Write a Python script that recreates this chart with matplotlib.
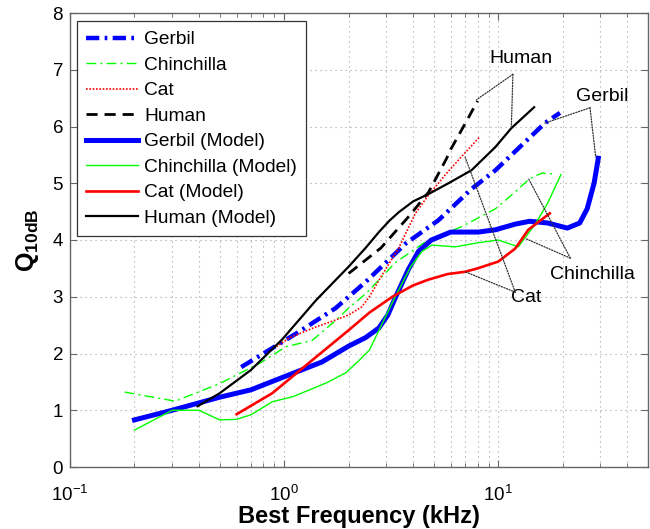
import numpy as np
import matplotlib
matplotlib.use("Agg")
import matplotlib.pyplot as plt

plt.rcParams['font.family'] = ['Liberation Sans', 'DejaVu Sans']
plt.rcParams['mathtext.fontset'] = 'custom'
plt.rcParams['mathtext.rm'] = 'Liberation Sans'
plt.rcParams['mathtext.bf'] = 'Liberation Sans:bold'
plt.rcParams['mathtext.it'] = 'Liberation Sans:italic'

# ---- data (kHz, Q10dB) ----
gerbil_x = [0.63, 1.17, 1.74, 2.4, 3.7, 5.26, 7.5, 9.7, 16.5, 19.4]
gerbil_y = [1.76, 2.38, 2.80, 3.26, 3.94, 4.35, 4.90, 5.23, 6.06, 6.24]

chin_x = [0.18, 0.31, 0.5, 0.77, 1.02, 1.35, 1.75, 2.0, 2.43, 3.3, 4.7, 6.7, 9.7, 12.0, 14.0, 16.0, 18.4]
chin_y = [1.32, 1.16, 1.47, 1.83, 2.12, 2.23, 2.59, 2.80, 3.07, 3.60, 4.00, 4.23, 4.55, 4.85, 5.08, 5.18, 5.16]

cat_x = [0.92, 1.05, 1.41, 1.74, 2.0, 2.3, 2.5, 2.83, 3.43, 4.1, 4.72, 5.66, 6.7, 8.2]
cat_y = [2.12, 2.27, 2.47, 2.59, 2.68, 2.82, 3.00, 3.35, 3.86, 4.47, 4.79, 5.15, 5.46, 5.82]

human_x = [2.0, 2.83, 3.81, 4.72, 5.74, 6.0, 7.0, 8.0]
human_y = [3.41, 3.86, 4.41, 4.84, 5.44, 5.60, 6.05, 6.45]

gerbil_m_x = [0.2, 0.3, 0.5, 0.7, 1.0, 1.5, 2.0, 2.4, 2.77, 3.05, 3.32, 3.8, 4.24, 4.87, 6.0, 8.07, 9.7, 12.0, 14.0, 17.0, 21.0, 24.0, 26.0, 28.0, 29.3]
gerbil_m_y = [0.83, 1.00, 1.23, 1.36, 1.59, 1.85, 2.13, 2.28, 2.45, 2.68, 3.00, 3.48, 3.80, 4.00, 4.14, 4.14, 4.18, 4.28, 4.33, 4.30, 4.21, 4.30, 4.55, 5.00, 5.44]

chin_m_x = [0.2, 0.3, 0.4, 0.5, 0.6, 0.7, 0.88, 1.1, 1.57, 1.94, 2.2, 2.5, 3.3, 3.9, 4.4, 4.9, 6.3, 8.0, 10.0, 12.4, 15.0, 17.0, 19.6]
chin_m_y = [0.65, 1.00, 1.00, 0.83, 0.84, 0.92, 1.15, 1.24, 1.48, 1.66, 1.85, 2.06, 3.00, 3.53, 3.80, 3.91, 3.88, 3.95, 4.00, 3.88, 4.30, 4.65, 5.15]

cat_m_x = [0.6, 0.88, 1.35, 2.0, 2.5, 3.2, 4.0, 4.7, 5.8, 7.0, 8.0, 10.0, 12.0, 13.8, 17.4]
cat_m_y = [0.93, 1.30, 1.88, 2.41, 2.72, 3.00, 3.20, 3.30, 3.40, 3.44, 3.50, 3.62, 3.85, 4.18, 4.47]

human_m_x = [0.394, 0.5, 0.7, 0.98, 1.41, 2.0, 2.4, 2.77, 3.1, 3.43, 4.0, 4.72, 5.85, 7.5, 9.7, 11.5, 14.7]
human_m_y = [1.07, 1.30, 1.71, 2.25, 2.94, 3.53, 3.86, 4.14, 4.34, 4.49, 4.68, 4.81, 5.00, 5.23, 5.64, 5.97, 6.34]

BLUE, GREEN, RED, BLACK = (0, 0, 1), (0, 1, 0), (1, 0, 0), (0, 0, 0)

fig = plt.figure(figsize=(6.5, 5.29), dpi=100)
ax = fig.add_axes([70/650, 62/529, 578/650, 454/529])

ax.plot(gerbil_x, gerbil_y, color=BLUE, lw=3.2, ls=(0, (3, 1.2, 0.6, 1.2)), label='Gerbil')
ax.plot(chin_x, chin_y, color=GREEN, lw=1.0, ls=(0, (7, 3, 1.5, 3)), label='Chinchilla')
ax.plot(cat_x, cat_y, color=RED, lw=1.2, ls=(0, (1, 1)), label='Cat')
ax.plot(human_x, human_y, color=BLACK, lw=2.0, ls=(0, (4, 2.5)), label='Human')
ax.plot(gerbil_m_x, gerbil_m_y, color=BLUE, lw=3.6, label='Gerbil (Model)')
ax.plot(chin_m_x, chin_m_y, color=GREEN, lw=1.0, label='Chinchilla (Model)')
ax.plot(cat_m_x, cat_m_y, color=RED, lw=1.9, label='Cat (Model)')
ax.plot(human_m_x, human_m_y, color=BLACK, lw=1.6, label='Human (Model)')

ax.set_xscale('log')
ax.set_xlim(0.1, 50)
ax.set_ylim(0, 8)
ax.set_yticks(range(0, 9))

ax.grid(True, which='major', axis='both', color='#a0a0a0', ls=(0, (1, 3.5)), lw=0.8)
ax.grid(True, which='minor', axis='x', color='#a0a0a0', ls=(0, (1, 3.5)), lw=0.8)

for s in ax.spines.values():
    s.set_color('#666666')
    s.set_linewidth(1.0)
ax.tick_params(which='both', direction='in', top=True, right=True, color='#666666',
               labelsize=13.5, labelcolor='black')
ax.tick_params(which='major', length=5)
ax.tick_params(which='minor', length=3)
ax.tick_params(axis='x', pad=13)
ax.tick_params(axis='y', pad=5)

ax.set_xlabel('Best Frequency (kHz)', fontsize=17, fontweight='bold', labelpad=0)
ax.set_ylabel(r'$\mathbf{Q_{10dB}}$', fontsize=18, labelpad=8)

leg = ax.legend(loc='upper left', bbox_to_anchor=(0.002, 0.994), fontsize=13.8,
                fancybox=False, framealpha=1, edgecolor='#333333', handlelength=2.7,
                labelspacing=0.42, borderpad=0.5, handletextpad=0.3, borderaxespad=0.3)
leg.get_frame().set_linewidth(0.9)

ann = dict(arrowstyle='-', color='#333333', lw=0.9, ls=(0, (1, 1.2)), shrinkA=0, shrinkB=0)
# Human
ax.text(12.8, 7.05, 'Human', fontsize=14, ha='center', va='bottom')
for tgt in [(7.9, 6.47), (11.5, 5.97)]:
    ax.annotate('', xy=tgt, xytext=(11.7, 6.92), arrowprops=ann)
# Gerbil
ax.text(30.5, 6.38, 'Gerbil', fontsize=14, ha='center', va='bottom')
for tgt in [(16.5, 6.06), (28.5, 5.46)]:
    ax.annotate('', xy=tgt, xytext=(26.8, 6.33), arrowprops=ann)
# Chinchilla
ax.text(27.5, 3.40, 'Chinchilla', fontsize=14, ha='center', va='center')
for tgt in [(13.8, 5.09), (13.5, 4.02)]:
    ax.annotate('', xy=tgt, xytext=(21.7, 3.68), arrowprops=ann)
# Cat
ax.text(13.5, 2.98, 'Cat', fontsize=14, ha='center', va='center')
for tgt in [(7.0, 5.46), (7.0, 3.44)]:
    ax.annotate('', xy=tgt, xytext=(12.0, 3.08), arrowprops=ann)

fig.savefig('out.png', dpi=100)
